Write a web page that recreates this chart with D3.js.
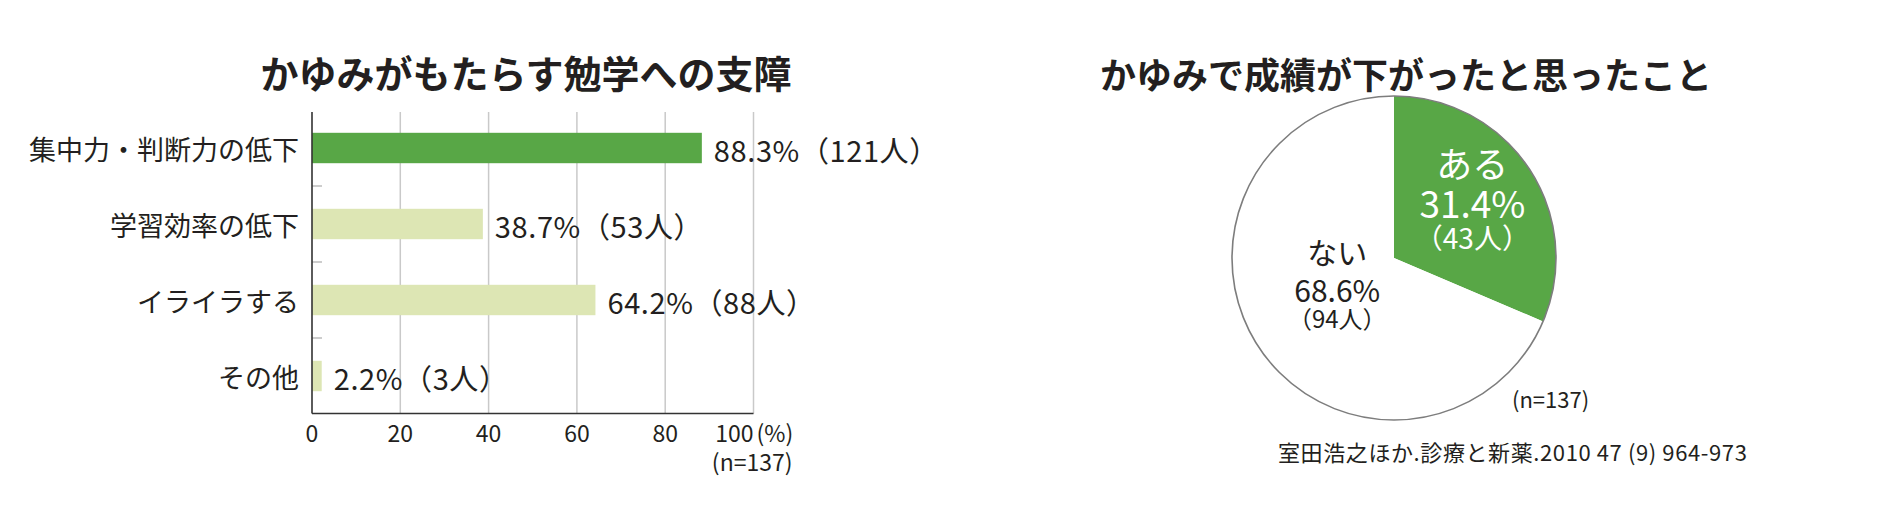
<!DOCTYPE html>
<html>
<head>
<meta charset="utf-8">
<script src="https://cdn.jsdelivr.net/npm/d3@7"></script>
<style>
  body { margin: 0; background: #fff; }
  svg { display: block; }
  text { font-family: "Noto Sans CJK JP", "Noto Sans", sans-serif; fill: #231f20; }
  .tick-label { font-family: "Liberation Sans Narrow", "Noto Sans CJK JP", sans-serif; }
</style>
</head>
<body>
<div id="viz"></div>
<script>
// bar chart data
var barCategories = ["集中力・判断力の低下", "学習効率の低下", "イライラする", "その他"];
var barPercents = [88.3, 38.7, 64.2, 2.2];
var barCounts = [121, 53, 88, 3];
var barTicks = [0, 20, 40, 60, 80, 100];

// pie chart data
var pieLabels = ["ある", "ない"];
var piePercents = [31.4, 68.6];
var pieCounts = [43, 94];

var width = 1898, height = 524;
var green = "#58a746", lightGreen = "#dde6b4";

var svg = d3.select("#viz").append("svg")
  .attr("width", width)
  .attr("height", height);

// ---------- bar chart ----------
var xScale = d3.scaleLinear().domain([0, 100]).range([312, 753.5]);
var yScale = d3.scaleBand().domain(barCategories).range([110, 414])
  .paddingInner(0.6).paddingOuter(0.3);
var plotTop = 112, plotBottom = 413.5;

svg.append("text")
  .attr("x", 526)
  .attr("y", 71)
  .attr("text-anchor", "middle")
  .attr("dominant-baseline", "central")
  .style("font-size", "38px")
  .style("font-weight", 700)
  .text("かゆみがもたらす勉学への支障");

// gridlines
svg.append("g").selectAll("line")
  .data(barTicks.slice(1))
  .enter().append("line")
  .attr("x1", function (d) { return xScale(d); })
  .attr("x2", function (d) { return xScale(d); })
  .attr("y1", plotTop)
  .attr("y2", plotBottom)
  .attr("stroke", "#c9c9c9")
  .attr("stroke-width", 1.5);

// small ticks between categories
var step = yScale.step();
svg.append("g").selectAll("line")
  .data(barCategories.slice(0, -1))
  .enter().append("line")
  .attr("x1", xScale(0))
  .attr("x2", xScale(0) + 10)
  .attr("y1", function (d) { return yScale(d) + yScale.bandwidth() + step * 0.3; })
  .attr("y2", function (d) { return yScale(d) + yScale.bandwidth() + step * 0.3; })
  .attr("stroke", "#bdbdbd")
  .attr("stroke-width", 1.5);

// bars
svg.append("g").selectAll("rect")
  .data(barCategories)
  .enter().append("rect")
  .attr("x", xScale(0))
  .attr("y", function (d) { return yScale(d); })
  .attr("width", function (d, i) { return xScale(barPercents[i]) - xScale(0); })
  .attr("height", yScale.bandwidth())
  .attr("fill", function (d, i) { return i === 0 ? green : lightGreen; });

// axes lines
svg.append("line")
  .attr("x1", xScale(0)).attr("x2", xScale(0))
  .attr("y1", plotTop).attr("y2", plotBottom)
  .attr("stroke", "#333").attr("stroke-width", 1.6);
svg.append("line")
  .attr("x1", xScale(0)).attr("x2", xScale(100))
  .attr("y1", plotBottom).attr("y2", plotBottom)
  .attr("stroke", "#333").attr("stroke-width", 1.6);

// category labels
svg.append("g").selectAll("text")
  .data(barCategories)
  .enter().append("text")
  .attr("x", xScale(0) - 13)
  .attr("y", function (d) { return yScale(d) + yScale.bandwidth() / 2; })
  .attr("text-anchor", "end")
  .attr("dominant-baseline", "central")
  .style("font-size", "27px")
  .text(function (d) { return d; });

// value labels
svg.append("g").selectAll("text")
  .data(barCategories)
  .enter().append("text")
  .attr("x", function (d, i) { return xScale(barPercents[i]) + 12; })
  .attr("y", function (d) { return yScale(d) + yScale.bandwidth() / 2 + 1; })
  .attr("dominant-baseline", "central")
  .style("font-size", "29px")
  .style("letter-spacing", "0.6px")
  .text(function (d, i) { return barPercents[i].toFixed(1) + "%（" + barCounts[i] + "人）"; });

// x tick labels
svg.append("g").selectAll("text")
  .data(barTicks)
  .enter().append("text")
  .attr("class", "tick-label")
  .attr("x", function (d) { return xScale(d); })
  .attr("y", 432)
  .attr("text-anchor", function (d) { return d === 100 ? "end" : "middle"; })
  .attr("dominant-baseline", "central")
  .style("font-size", "23px")
  .text(function (d) { return d; });

svg.append("text")
  .attr("class", "tick-label")
  .attr("x", xScale(100) + 3)
  .attr("y", 432)
  .attr("dominant-baseline", "central")
  .style("font-size", "23px")
  .text("(%)");

svg.append("text")
  .attr("class", "tick-label")
  .attr("x", xScale(100) + 39)
  .attr("y", 461)
  .attr("text-anchor", "end")
  .attr("dominant-baseline", "central")
  .style("font-size", "23px")
  .text("(n=137)");

// ---------- pie chart ----------
var cx = 1394, cy = 258, radius = 162;

svg.append("text")
  .attr("x", 1406)
  .attr("y", 73)
  .attr("text-anchor", "middle")
  .attr("dominant-baseline", "central")
  .style("font-size", "36px")
  .style("font-weight", 700)
  .text("かゆみで成績が下がったと思ったこと");

var pie = d3.pie().sort(null).value(function (d) { return d; });
var arcs = pie(piePercents);
var arc = d3.arc().innerRadius(0).outerRadius(radius);

var pieG = svg.append("g").attr("transform", "translate(" + cx + "," + cy + ")");

pieG.selectAll("path")
  .data(arcs)
  .enter().append("path")
  .attr("d", arc)
  .attr("fill", function (d, i) { return i === 0 ? green : "#fff"; });

pieG.append("circle")
  .attr("r", radius)
  .attr("fill", "none")
  .attr("stroke", "#7d7d7d")
  .attr("stroke-width", 1.6);

// pie labels, three lines each in one text
var labelRadius = [0.58, 0.42];
var lineSizes = [[36, 37, 28], [30, 30, 24]];
var lineOffsets = [[-44, -4, 31], [-45, -7, 22]];
arcs.forEach(function (d, i) {
  var r = radius * labelRadius[i];
  var c = d3.arc().innerRadius(r).outerRadius(r).centroid(d);
  var lines = [pieLabels[i], piePercents[i].toFixed(1) + "%", "（" + pieCounts[i] + "人）"];
  var t = pieG.append("text")
    .attr("text-anchor", "middle")
    .style("fill", i === 0 ? "#fff" : "#231f20");
  lines.forEach(function (s, j) {
    t.append("tspan")
      .attr("x", c[0])
      .attr("y", c[1] + lineOffsets[i][j])
      .attr("dominant-baseline", "central")
      .style("font-size", lineSizes[i][j] + "px")
      .style("fill", i === 0 ? "#fff" : "#231f20")
      .text(s);
  });
});

svg.append("text")
  .attr("x", 1512)
  .attr("y", 398)
  .attr("dominant-baseline", "central")
  .style("font-size", "22px")
  .text("(n=137)");

svg.append("text")
  .attr("x", 1278)
  .attr("y", 451)
  .attr("dominant-baseline", "central")
  .style("font-size", "22px")
  .style("letter-spacing", "0.6px")
  .text("室田浩之ほか.診療と新薬.2010 47 (9) 964-973");
</script>
</body>
</html>
